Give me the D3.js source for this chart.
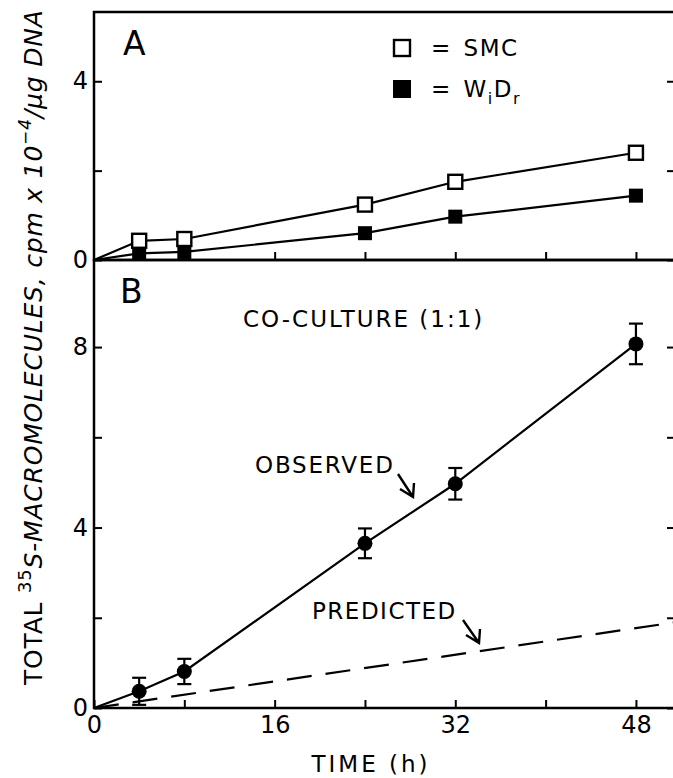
<!DOCTYPE html>
<html>
<head>
<meta charset="utf-8">
<script src="https://cdn.jsdelivr.net/npm/d3@7"></script>
<style>
  body { margin: 0; background: #fff; }
  svg { display: block; }
  text { font-family: "DejaVu Sans", sans-serif; fill: #000; }
</style>
</head>
<body>
<svg id="chart" width="673" height="778"></svg>
<script>
// sampling times (h)
var hours = [4, 8, 24, 32, 48];
// panel A, cpm x 10^-4 / ug DNA
var smc = [0.43, 0.47, 1.24, 1.75, 2.40];
var widr = [0.15, 0.18, 0.60, 0.97, 1.44];
// panel B, co-culture
var observed = [0.37, 0.81, 3.65, 4.97, 8.07];
var observedErr = [0.30, 0.28, 0.33, 0.35, 0.45];
var predictedHours = [0, 51.5];
var predicted = [0, 1.9];

var xTicks = [0, 8, 16, 24, 32, 40, 48];
var xLabels = [0, 16, 32, 48];
var yTicksA = [0, 2, 4];
var yLabelsA = [0, 4];
var yTicksB = [0, 2, 4, 6, 8];
var yLabelsB = [0, 4, 8];

var chart = d3.select("#chart");

var x = d3.scaleLinear().domain([0, 51.46]).range([94, 675]);
var yA = d3.scaleLinear().domain([0, 5.55]).range([260, 12]);
var yB = d3.scaleLinear().domain([0, 9.93]).range([708, 260]);

var ink = "#000";

// frames
function frame(y) {
  var r = y.range();
  chart.append("path")
    .attr("d", "M" + x.range()[1] + "," + r[1] + "H" + x.range()[0] + "V" + r[0] + "H" + x.range()[1])
    .attr("fill", "none").attr("stroke", ink).attr("stroke-width", 2.5);
}
frame(yA);
frame(yB);

function styleAxis(g, size) {
  g.select(".domain").remove();
  g.selectAll("line").attr("stroke", ink).attr("stroke-width", 2);
  g.selectAll("text").attr("font-size", size || 24).attr("fill", ink).style("font-family", "DejaVu Sans");
}

// left axes
chart.append("g").attr("transform", "translate(" + x(0) + ",0)")
  .call(d3.axisLeft(yA).tickValues(yTicksA).tickSizeInner(-8).tickPadding(6)
    .tickFormat(function(d) { return yLabelsA.indexOf(d) >= 0 ? d : ""; }))
  .call(styleAxis);
chart.append("g").attr("transform", "translate(" + x(0) + ",0)")
  .call(d3.axisLeft(yB).tickValues(yTicksB).tickSizeInner(-8).tickPadding(6)
    .tickFormat(function(d) { return yLabelsB.indexOf(d) >= 0 ? d : ""; }))
  .call(styleAxis);

// right ticks
chart.append("g").attr("transform", "translate(" + x.range()[1] + ",0)")
  .call(d3.axisRight(yA).tickValues(yTicksA).tickSizeInner(-8).tickFormat(""))
  .call(styleAxis);
chart.append("g").attr("transform", "translate(" + x.range()[1] + ",0)")
  .call(d3.axisRight(yB).tickValues(yTicksB).tickSizeInner(-8).tickFormat(""))
  .call(styleAxis);

// bottom axes
chart.append("g").attr("transform", "translate(0," + yA(0) + ")")
  .call(d3.axisBottom(x).tickValues(xTicks.slice(2)).tickSizeInner(-8).tickFormat(""))
  .call(styleAxis);
chart.append("g").attr("transform", "translate(0," + yB(0) + ")")
  .call(d3.axisBottom(x).tickValues(xTicks).tickSizeInner(-8).tickPadding(8)
    .tickFormat(function(d) { return xLabels.indexOf(d) >= 0 ? d : ""; }))
  .call(styleAxis);

// panel A lines + markers
var lineA = d3.line().x(function(d) { return x(d[0]); }).y(function(d) { return yA(d[1]); });
var lineB = d3.line().x(function(d) { return x(d[0]); }).y(function(d) { return yB(d[1]); });

function withOrigin(vals) {
  return [[0, 0]].concat(hours.map(function(h, i) { return [h, vals[i]]; }));
}

chart.append("path").attr("d", lineA(withOrigin(smc)))
  .attr("fill", "none").attr("stroke", ink).attr("stroke-width", 2.2);
chart.append("path").attr("d", lineA(withOrigin(widr)))
  .attr("fill", "none").attr("stroke", ink).attr("stroke-width", 2.2);

var sq = 14;
chart.selectAll(".widr").data(hours).enter().append("rect")
  .attr("x", function(d) { return x(d) - sq / 2; })
  .attr("y", function(d, i) { return yA(widr[i]) - sq / 2; })
  .attr("width", sq).attr("height", sq).attr("fill", ink);
chart.selectAll(".smc").data(hours).enter().append("rect")
  .attr("x", function(d) { return x(d) - sq / 2; })
  .attr("y", function(d, i) { return yA(smc[i]) - sq / 2; })
  .attr("width", sq).attr("height", sq)
  .attr("fill", "#fff").attr("stroke", ink).attr("stroke-width", 2.4);

// legend
chart.append("rect").attr("x", 394).attr("y", 40).attr("width", 16).attr("height", 16)
  .attr("fill", "#fff").attr("stroke", ink).attr("stroke-width", 2.4);
chart.append("rect").attr("x", 393).attr("y", 80).attr("width", 18).attr("height", 18).attr("fill", ink);
chart.append("text").attr("x", 431).attr("y", 56).attr("font-size", 23).attr("letter-spacing", 1.5)
  .text("= SMC").attr("word-spacing", 3);
var wd = chart.append("text").attr("x", 431).attr("y", 97).attr("font-size", 23)
  .attr("letter-spacing", 1.5).attr("word-spacing", 3);
wd.append("tspan").text("= W");
wd.append("tspan").attr("font-size", 16).attr("dy", 7).text("i");
wd.append("tspan").attr("dy", -7).text("D");
wd.append("tspan").attr("font-size", 16).attr("dy", 7).text("r");

// panel labels
chart.append("text").attr("x", 123).attr("y", 55).attr("font-size", 33).text("A");
chart.append("text").attr("x", 120).attr("y", 303).attr("font-size", 33).text("B");

// panel B
chart.append("path").attr("d", lineB(predictedHours.map(function(h, i) { return [h, predicted[i]]; })))
  .attr("fill", "none").attr("stroke", ink).attr("stroke-width", 2.2).attr("stroke-dasharray", "25,14");
chart.append("path").attr("d", lineB(withOrigin(observed)))
  .attr("fill", "none").attr("stroke", ink).attr("stroke-width", 2.2);

var err = chart.selectAll(".err").data(hours).enter().append("g");
err.append("line")
  .attr("x1", function(d) { return x(d); }).attr("x2", function(d) { return x(d); })
  .attr("y1", function(d, i) { return yB(observed[i] - observedErr[i]); })
  .attr("y2", function(d, i) { return yB(observed[i] + observedErr[i]); })
  .attr("stroke", ink).attr("stroke-width", 2.2);
[-1, 1].forEach(function(s) {
  err.append("line")
    .attr("x1", function(d) { return x(d) - 7; }).attr("x2", function(d) { return x(d) + 7; })
    .attr("y1", function(d, i) { return yB(observed[i] + s * observedErr[i]); })
    .attr("y2", function(d, i) { return yB(observed[i] + s * observedErr[i]); })
    .attr("stroke", ink).attr("stroke-width", 2.2);
});
err.append("circle")
  .attr("cx", function(d) { return x(d); })
  .attr("cy", function(d, i) { return yB(observed[i]); })
  .attr("r", 7.5).attr("fill", ink);

// annotations
chart.append("text").attr("x", 243).attr("y", 327).attr("font-size", 23).attr("letter-spacing", 2)
  .text("CO-CULTURE (1:1)");
chart.append("text").attr("x", 255).attr("y", 473).attr("font-size", 23).attr("letter-spacing", 1.8)
  .text("OBSERVED");
chart.append("text").attr("x", 312).attr("y", 619).attr("font-size", 23).attr("letter-spacing", 1.5)
  .text("PREDICTED");

function arrow(x0, y0, x1, y1) {
  chart.append("path").attr("d", "M" + x0 + "," + y0 + "L" + x1 + "," + y1 +
      "M" + (x1 - 13) + "," + (y1 - 8) + "L" + x1 + "," + y1 + "L" + (x1 + 1) + "," + (y1 - 14))
    .attr("fill", "none").attr("stroke", ink).attr("stroke-width", 2.4);
}
arrow(398, 474, 413, 497);
arrow(463, 620, 479, 643);

// axis titles
chart.append("text").attr("x", 371).attr("y", 772).attr("text-anchor", "middle")
  .attr("font-size", 23).attr("letter-spacing", 3).text("TIME (h)");

var yt = chart.append("text").attr("transform", "translate(42,685) rotate(-90)")
  .attr("font-size", 25).attr("letter-spacing", 0.8);
yt.append("tspan").text("TOTAL ");
yt.append("tspan").attr("font-size", 18).attr("dy", -11).text("35");
yt.append("tspan").attr("dy", 11).attr("font-style", "italic").text("S-MACROMOLECULES, cpm x 10");
yt.append("tspan").attr("font-size", 17).attr("dy", -11).attr("font-style", "italic").text("\u22124");
yt.append("tspan").attr("dy", 11).attr("font-style", "italic").text("/\u03bcg DNA");
</script>
</body>
</html>
